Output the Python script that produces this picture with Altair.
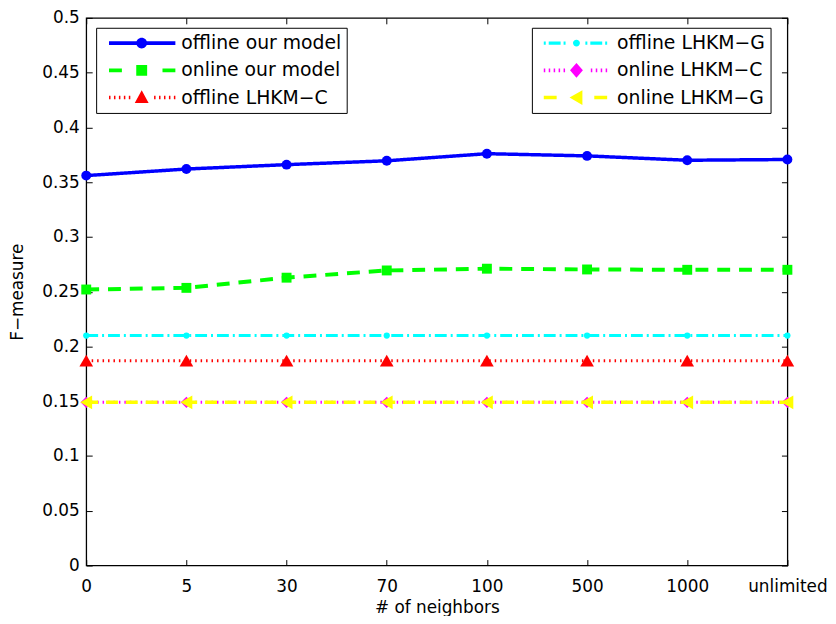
import altair as alt
import pandas as pd

# ---------------- data ----------------
categories = ["0", "5", "30", "70", "100", "500", "1000", "unlimited"]

series_names = [
    "offline our model",
    "online our model",
    "offline LHKM−C",
    "offline LHKM−G",
    "online LHKM−C",
    "online LHKM−G",
]

offline_our_model = [0.356, 0.362, 0.366, 0.3695, 0.376, 0.374, 0.370, 0.3707]
online_our_model = [0.252, 0.2535, 0.2628, 0.2694, 0.271, 0.2703, 0.2700, 0.2700]
offline_lhkm_c = [0.187, 0.187, 0.187, 0.187, 0.187, 0.187, 0.187, 0.187]
offline_lhkm_g = [0.210, 0.210, 0.210, 0.210, 0.210, 0.210, 0.210, 0.210]
online_lhkm_c = [0.149, 0.149, 0.149, 0.149, 0.149, 0.149, 0.149, 0.149]
online_lhkm_g = [0.149, 0.149, 0.149, 0.149, 0.149, 0.149, 0.149, 0.149]

series_values = [offline_our_model, online_our_model, offline_lhkm_c,
                 offline_lhkm_g, online_lhkm_c, online_lhkm_g]

y_ticks = [0, 0.05, 0.1, 0.15, 0.2, 0.25, 0.3, 0.35, 0.4, 0.45, 0.5]

# ---------------- styles ----------------
colors = ["#0000ff", "#00ff00", "#ff0000", "#00ffff", "#ff00ff", "#ffff00"]
dashes = [[1, 0], [13, 9], [1.5, 4], [12, 4, 2, 4], [1.5, 4], [12, 8]]
widths = [3.5, 4, 3, 3, 3, 3.5]
shapes = ["circle", "square", "triangle-up", "circle", "diamond", "triangle-left"]
sizes = [100, 100, 190, 40, 130, 190]

FONT = "DejaVu Sans"

rows = []
for name, vals in zip(series_names, series_values):
    for k, v in zip(categories, vals):
        rows.append({"series": name, "k": k, "v": v})
df = pd.DataFrame(rows)

x_scale = alt.Scale(type="point", padding=0)
y_scale = alt.Scale(domain=[0, 0.5], nice=False, zero=True)

# inward ticks: tick length given as an expression pointing into the plot
ax_common = dict(domain=False, grid=False, tickSize={"expr": "-6"},
                 tickColor="black", tickWidth=1, labelFont=FONT,
                 labelFontSize=17, labelColor="black", titleFont=FONT,
                 titleFontSize=17, titleFontWeight="normal", titleColor="black")

x_bottom = alt.Axis(orient="bottom", title="# of neighbors", labelAngle=0,
                    labelPadding=19, titlePadding=5, **ax_common)
y_left = alt.Axis(orient="left", title="F−measure", values=y_ticks,
                  format=".2~f", labelPadding=13, titlePadding=15, **ax_common)
x_top = alt.Axis(orient="top", labels=False, title=None, **ax_common)
y_right = alt.Axis(orient="right", labels=False, title=None, values=y_ticks,
                   **ax_common)

layers = []
for i, name in enumerate(series_names):
    sub = alt.Chart(df).transform_filter(alt.datum.series == name)
    line = sub.mark_line(color=colors[i], strokeWidth=widths[i],
                         strokeDash=dashes[i]).encode(
        x=alt.X("k:N", sort=categories, scale=x_scale,
                axis=x_bottom if i == 0 else None),
        y=alt.Y("v:Q", scale=y_scale, axis=y_left if i == 0 else None),
    )
    pts = sub.mark_point(filled=True, color=colors[i], shape=shapes[i],
                         size=sizes[i], opacity=1, strokeWidth=0).encode(
        x=alt.X("k:N", sort=categories, scale=x_scale,
                axis=x_top if i == 0 else None),
        y=alt.Y("v:Q", scale=y_scale, axis=y_right if i == 0 else None),
    )
    layers += [line, pts]

# ---------------- legend symbols (line sample + marker) ----------------
SYM_SIZE = 441
SC = (SYM_SIZE ** 0.5) / 2.0   # px per path unit


def u(px):
    val = round(px / SC, 3)
    if val == 0:
        val = 0.0
    return f"{val:g}"


def rect(x1, x2, h):
    return f"M{u(x1)},{u(-h)}H{u(x2)}V{u(h)}H{u(x1)}Z"


def pattern_segments(start, end, pattern, lim_left, lim_right):
    segs = []
    x, i = start, 0
    while x < lim_left:
        ln = pattern[i % len(pattern)]
        if i % 2 == 0:
            b = min(x + ln, lim_left)
            if b - x >= 1.2:
                segs.append((x, b))
        x += ln
        i += 1
    x, i = end, 0
    while x > lim_right:
        ln = pattern[i % len(pattern)]
        if i % 2 == 0:
            a = max(x - ln, lim_right)
            if x - a >= 1.2:
                segs.append((a, x))
        x -= ln
        i += 1
    return segs


def circ(m, r):
    return (f"M{u(m - r)},0A{u(r)},{u(r)},0,1,1,{u(m + r)},0"
            f"A{u(r)},{u(r)},0,1,1,{u(m - r)},0Z")


def marker_path(kind, m):
    if kind == "circle":
        return circ(m, 5.5)
    if kind == "dot":
        return circ(m, 3.5)
    if kind == "square":
        return rect(m - 5.5, m + 5.5, 5.5)
    if kind == "tri-up":
        return f"M{u(m)},{u(-7.5)}L{u(m + 7)},{u(5.5)}L{u(m - 7)},{u(5.5)}Z"
    if kind == "diamond":
        return f"M{u(m)},{u(-7.5)}L{u(m + 6.5)},0L{u(m)},{u(7.5)}L{u(m - 6.5)},0Z"
    if kind == "tri-left":
        return f"M{u(m - 7)},0L{u(m + 6)},{u(-7.5)}L{u(m + 6)},{u(7.5)}Z"
    return ""


# legend sample styles: (pattern, half thickness, marker, half width of gap)
sample_styles = [
    (None, 2.0, "circle", 0),
    ([13, 10], 2.0, "square", 10),
    ([1.5, 3.5], 1.8, "tri-up", 11),
    ([2, 3, 12, 3], 1.6, "dot", 9),
    ([1.5, 3.5], 1.8, "diamond", 11),
    ([13, 10], 1.8, "tri-left", 12),
]


def legend_paths(idx_list, start, end, mark):
    paths = []
    for i in idx_list:
        pat, h, kind, gap = sample_styles[i]
        if pat is None:
            segs = [(start, end)]
        else:
            segs = pattern_segments(start, end, pat, mark - gap, mark + gap)
        p = "".join(rect(a, b, h) for a, b in segs) + marker_path(kind, mark)
        paths.append(p)
    return paths


def legend_layer(idx_list, box_left, lx, start_abs, end_abs, mark_abs):
    center = box_left + 5 + (SYM_SIZE ** 0.5) / 2.0
    names = [series_names[i] for i in idx_list]
    cols = [colors[i] for i in idx_list]
    paths = legend_paths(idx_list, start_abs - center, end_abs - center,
                         mark_abs - center)
    leg = alt.Legend(orient="none", legendX=lx, legendY=10, title=None,
                     symbolSize=SYM_SIZE, symbolStrokeWidth=0, symbolOffset=0,
                     labelFont=FONT, labelFontSize=19, labelColor="black",
                     labelOffset=60, labelLimit=400, rowPadding=6.5, padding=5,
                     strokeColor="black", fillColor="white")
    return alt.Chart(alt.Data(values=[{"s": n} for n in names])).mark_point(
        filled=True, opacity=1, strokeWidth=0
    ).encode(
        color=alt.Color("s:N", scale=alt.Scale(domain=names, range=cols), legend=leg),
        shape=alt.Shape("s:N", scale=alt.Scale(domain=names, range=paths), legend=leg),
    ).transform_filter("false")


layers.append(legend_layer([0, 1, 2], 97, 10, 110, 177, 143))
layers.append(legend_layer([3, 4, 5], 537, 450, 549, 613, 582))

chart = alt.layer(*layers).resolve_scale(
    color="independent", shape="independent"
).properties(
    width=708, height=553,
    autosize=alt.AutoSizeParams(type="none"),
    padding={"left": 79, "top": 7, "right": 41, "bottom": 48},
    background="white",
).configure_view(stroke="black", strokeWidth=1.3)

chart.save("out.html", embed_options={"renderer": "svg", "actions": False})
